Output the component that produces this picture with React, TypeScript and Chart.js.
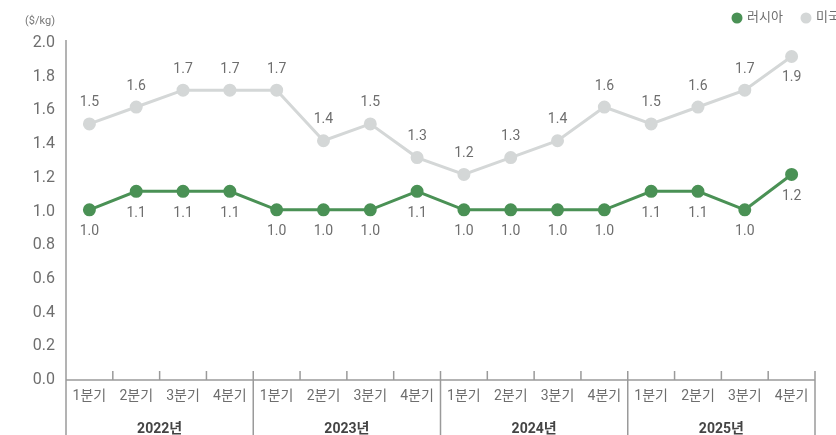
import React, { useEffect, useRef } from "react";
import { Chart, registerables } from "chart.js";

Chart.register(...registerables);

const quarters = ["1분기", "2분기", "3분기", "4분기"];
const years = ["2022년", "2023년", "2024년", "2025년"];
const categories = years.flatMap((y) => quarters.map((q) => `${y} ${q}`));
const russia = [1.01, 1.12, 1.12, 1.12, 1.01, 1.01, 1.01, 1.12, 1.01, 1.01, 1.01, 1.01, 1.12, 1.12, 1.01, 1.22];
const usa = [1.52, 1.62, 1.72, 1.72, 1.72, 1.42, 1.52, 1.32, 1.22, 1.32, 1.42, 1.62, 1.52, 1.62, 1.72, 1.92];
const seriesNames = ["러시아", "미국"];
const seriesColors = ["#4a9155", "#d4d7d7"];
const unitLabel = "($/kg)";

const FONT = "Roboto, 'Noto Sans CJK KR', sans-serif";
const TEXT = "#6e6e6e";

const overlayPlugin = {
  id: "overlay",
  afterDraw(chart: any) {
    const { ctx, chartArea } = chart;
    const H = chart.height;
    const n = categories.length;
    const step = (chartArea.right - chartArea.left) / n;
    ctx.save();
    ctx.strokeStyle = "#9a9a9a";
    ctx.lineWidth = 1.5;
    // y axis line
    ctx.beginPath();
    ctx.moveTo(chartArea.left, chartArea.top - 3);
    ctx.lineTo(chartArea.left, H);
    ctx.stroke();
    // x axis line
    ctx.beginPath();
    ctx.moveTo(chartArea.left, chartArea.bottom);
    ctx.lineTo(chartArea.right, chartArea.bottom);
    ctx.stroke();
    // ticks & dividers
    for (let i = 1; i <= n; i++) {
      const bx = chartArea.left + step * i;
      ctx.beginPath();
      ctx.moveTo(bx, chartArea.bottom - 9);
      ctx.lineTo(bx, i % 4 === 0 ? H : chartArea.bottom);
      ctx.stroke();
    }
    // year labels
    ctx.fillStyle = "#444";
    ctx.font = `bold 14px ${FONT}`;
    ctx.textAlign = "center";
    ctx.textBaseline = "middle";
    years.forEach((y, i) => {
      const cx = chartArea.left + step * (i * 4 + 2);
      ctx.fillText(y, cx, chartArea.bottom + 49);
    });
    // unit label
    ctx.fillStyle = "#777";
    ctx.font = `11px ${FONT}`;
    ctx.textAlign = "center";
    ctx.fillText(unitLabel, 40, 21);
    // data labels
    ctx.font = `14px ${FONT}`;
    ctx.fillStyle = TEXT;
    chart.data.datasets.forEach((ds: any, di: number) => {
      const meta = chart.getDatasetMeta(di);
      meta.data.forEach((pt: any, i: number) => {
        const v = ds.data[i];
        const label = (Math.round(v * 10) / 10).toFixed(1);
        let dy = di === 0 ? 22 : -21;
        if (pt.y + dy < chartArea.top) dy = 21;
        ctx.fillText(label, pt.x, pt.y + dy);
      });
    });
    // legend
    ctx.font = `13px ${FONT}`;
    ctx.textAlign = "left";
    const legendX = [737, 806];
    seriesNames.forEach((name, i) => {
      ctx.fillStyle = seriesColors[i];
      ctx.beginPath();
      ctx.arc(legendX[i], 18, 5.5, 0, Math.PI * 2);
      ctx.fill();
      ctx.fillStyle = TEXT;
      ctx.fillText(name, legendX[i] + 10, 18);
    });
    ctx.restore();
  },
};

export default function App() {
  const ref = useRef<HTMLCanvasElement>(null);
  useEffect(() => {
    if (!ref.current) return;
    const chart = new Chart(ref.current, {
      type: "line",
      data: {
        labels: categories,
        datasets: [
          {
            label: seriesNames[0],
            data: russia,
            borderColor: seriesColors[0],
            backgroundColor: seriesColors[0],
            borderWidth: 3,
            pointRadius: 5,
            pointHoverRadius: 5,
            tension: 0,
          },
          {
            label: seriesNames[1],
            data: usa,
            borderColor: seriesColors[1],
            backgroundColor: seriesColors[1],
            borderWidth: 3,
            pointRadius: 5,
            pointHoverRadius: 5,
            tension: 0,
          },
        ],
      },
      options: {
        animation: false,
        responsive: false,
        maintainAspectRatio: false,
        layout: { padding: { top: 43, right: 41, left: 0, bottom: 0 } },
        plugins: {
          legend: { display: false },
          tooltip: { enabled: false },
        },
        scales: {
          x: {
            type: "category",
            offset: true,
            grid: { display: false, drawTicks: false },
            border: { display: false },
            ticks: {
              autoSkip: false,
              maxRotation: 0,
              padding: 8,
              color: TEXT,
              font: { size: 14, family: FONT },
              callback: (_v: any, i: number) => quarters[i % 4],
            },
            afterFit: (s: any) => {
              s.height = 55;
            },
          },
          y: {
            min: 0,
            max: 2.0,
            grid: { display: false, drawTicks: false },
            border: { display: false },
            ticks: {
              stepSize: 0.2,
              padding: 11,
              color: TEXT,
              font: { size: 16, family: FONT },
              callback: (v: any) => Number(v).toFixed(1),
            },
            afterFit: (s: any) => {
              s.width = 66;
            },
          },
        },
      },
      plugins: [overlayPlugin],
    });
    return () => chart.destroy();
  }, []);
  return (
    <div style={{ position: "fixed", left: 0, top: 0, width: 836, height: 435, overflow: "hidden", background: "#fff" }}>
      <canvas ref={ref} width={856} height={435} style={{ width: 856, height: 435, display: "block" }} />
    </div>
  );
}
